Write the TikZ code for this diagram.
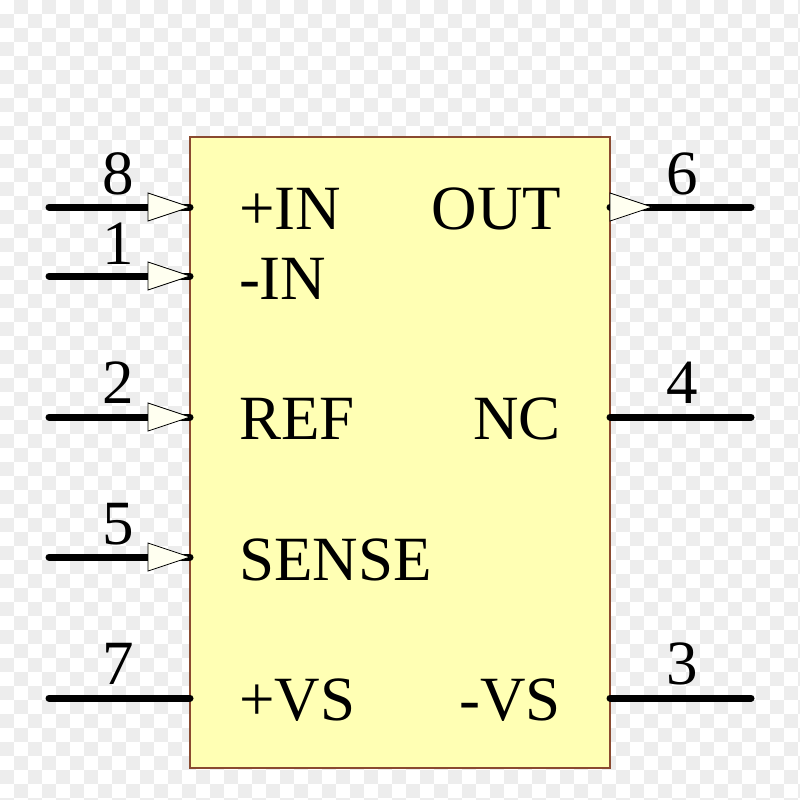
\documentclass[tikz,border=0pt]{standalone}
\usepackage{fontspec}
\setmainfont{Liberation Serif}
\definecolor{tile}{HTML}{EDEDED}
\definecolor{chipfill}{HTML}{FFFFB4}
\definecolor{edge}{HTML}{8A4A30}
\definecolor{tri}{HTML}{FFFFF0}
\tikzset{
  x=1pt,y=-1pt,
  bodybox/.style={draw=edge,fill=chipfill,line width=1.2pt},
  pinline/.style={line width=7pt,line cap=round,black},
  pintri/.style={draw=black,fill=tri,line width=0.8pt,line join=miter},
  lab/.style={font=\fontsize{63}{63}\selectfont,inner sep=0pt,outer sep=0pt,text=black},
  sigl/.style={lab,anchor=base west},
  sigr/.style={lab,anchor=base east},
  num/.style={lab,anchor=base},
}
\begin{document}
\begin{tikzpicture}
\useasboundingbox (0,0) rectangle (800,800);
\fill[white] (0,0) rectangle (800,800);
\foreach \ci in {0,...,57}{\foreach \cj in {0,...,57}{
  \pgfmathtruncatemacro{\parity}{mod(\ci+\cj,2)}
  \ifnum\parity=1 \fill[tile] ({14*\ci},{14*\cj}) rectangle ({14*\ci+14},{14*\cj+14}); \fi
}}
% pin ends
\coordinate (L8) at (49,207); \coordinate (L8e) at (190,207);
\coordinate (L1) at (49,276); \coordinate (L1e) at (190,276);
\coordinate (L2) at (49,417); \coordinate (L2e) at (190,417);
\coordinate (L5) at (49,557); \coordinate (L5e) at (190,557);
\coordinate (L7) at (49,698); \coordinate (L7e) at (190,698);
\coordinate (R6) at (751,207); \coordinate (R6e) at (610,207);
\coordinate (R4) at (751,417); \coordinate (R4e) at (610,417);
\coordinate (R3) at (751,698); \coordinate (R3e) at (610,698);
\node[bodybox,minimum width=420pt,minimum height=631pt,inner sep=0pt,outer sep=0pt] (chip) at (400,452.5) {};
\foreach \pa/\pb in {L8/L8e,L1/L1e,L2/L2e,L5/L5e,L7/L7e,R6/R6e,R4/R4e,R3/R3e}{\draw[pinline] (\pa) -- (\pb);}
% input / output triangles
\foreach \tp in {L8e,L1e,L2e,L5e}{
  \draw[pintri] ([shift={(-42,-14)}]\tp) -- (\tp) -- ([shift={(-42,14)}]\tp) -- cycle;
}
\draw[pintri] ([shift={(0,-14)}]R6e) -- ([shift={(42,0)}]R6e) -- ([shift={(0,14)}]R6e) -- cycle;
% signal names
\node[sigl] (tpin) at (239,229) {+IN};
\node[sigl] (tmin) at (239,299) {-IN};
\node[sigl] (tref) at (239,439) {REF};
\node[sigl] (tsense) at (239,580) {SENSE};
\node[sigl] (tvsp) at (239,720) {+VS};
\node[sigr] (tout) at (561,229) {OUT};
\node[sigr] (tnc) at (561,439) {NC};
\node[sigr] (tvsm) at (561,720) {-VS};
% pin numbers
\node[num] (n8) at (118.5,194) {8};
\node[num] (n1) at (118.5,264) {1};
\node[num] (n2) at (118.5,403) {2};
\node[num] (n5) at (118.5,544) {5};
\node[num] (n7) at (118.5,684) {7};
\node[num] (n6) at (682.5,194) {6};
\node[num] (n4) at (682.5,403) {4};
\node[num] (n3) at (682.5,684) {3};
\end{tikzpicture}
\end{document}
